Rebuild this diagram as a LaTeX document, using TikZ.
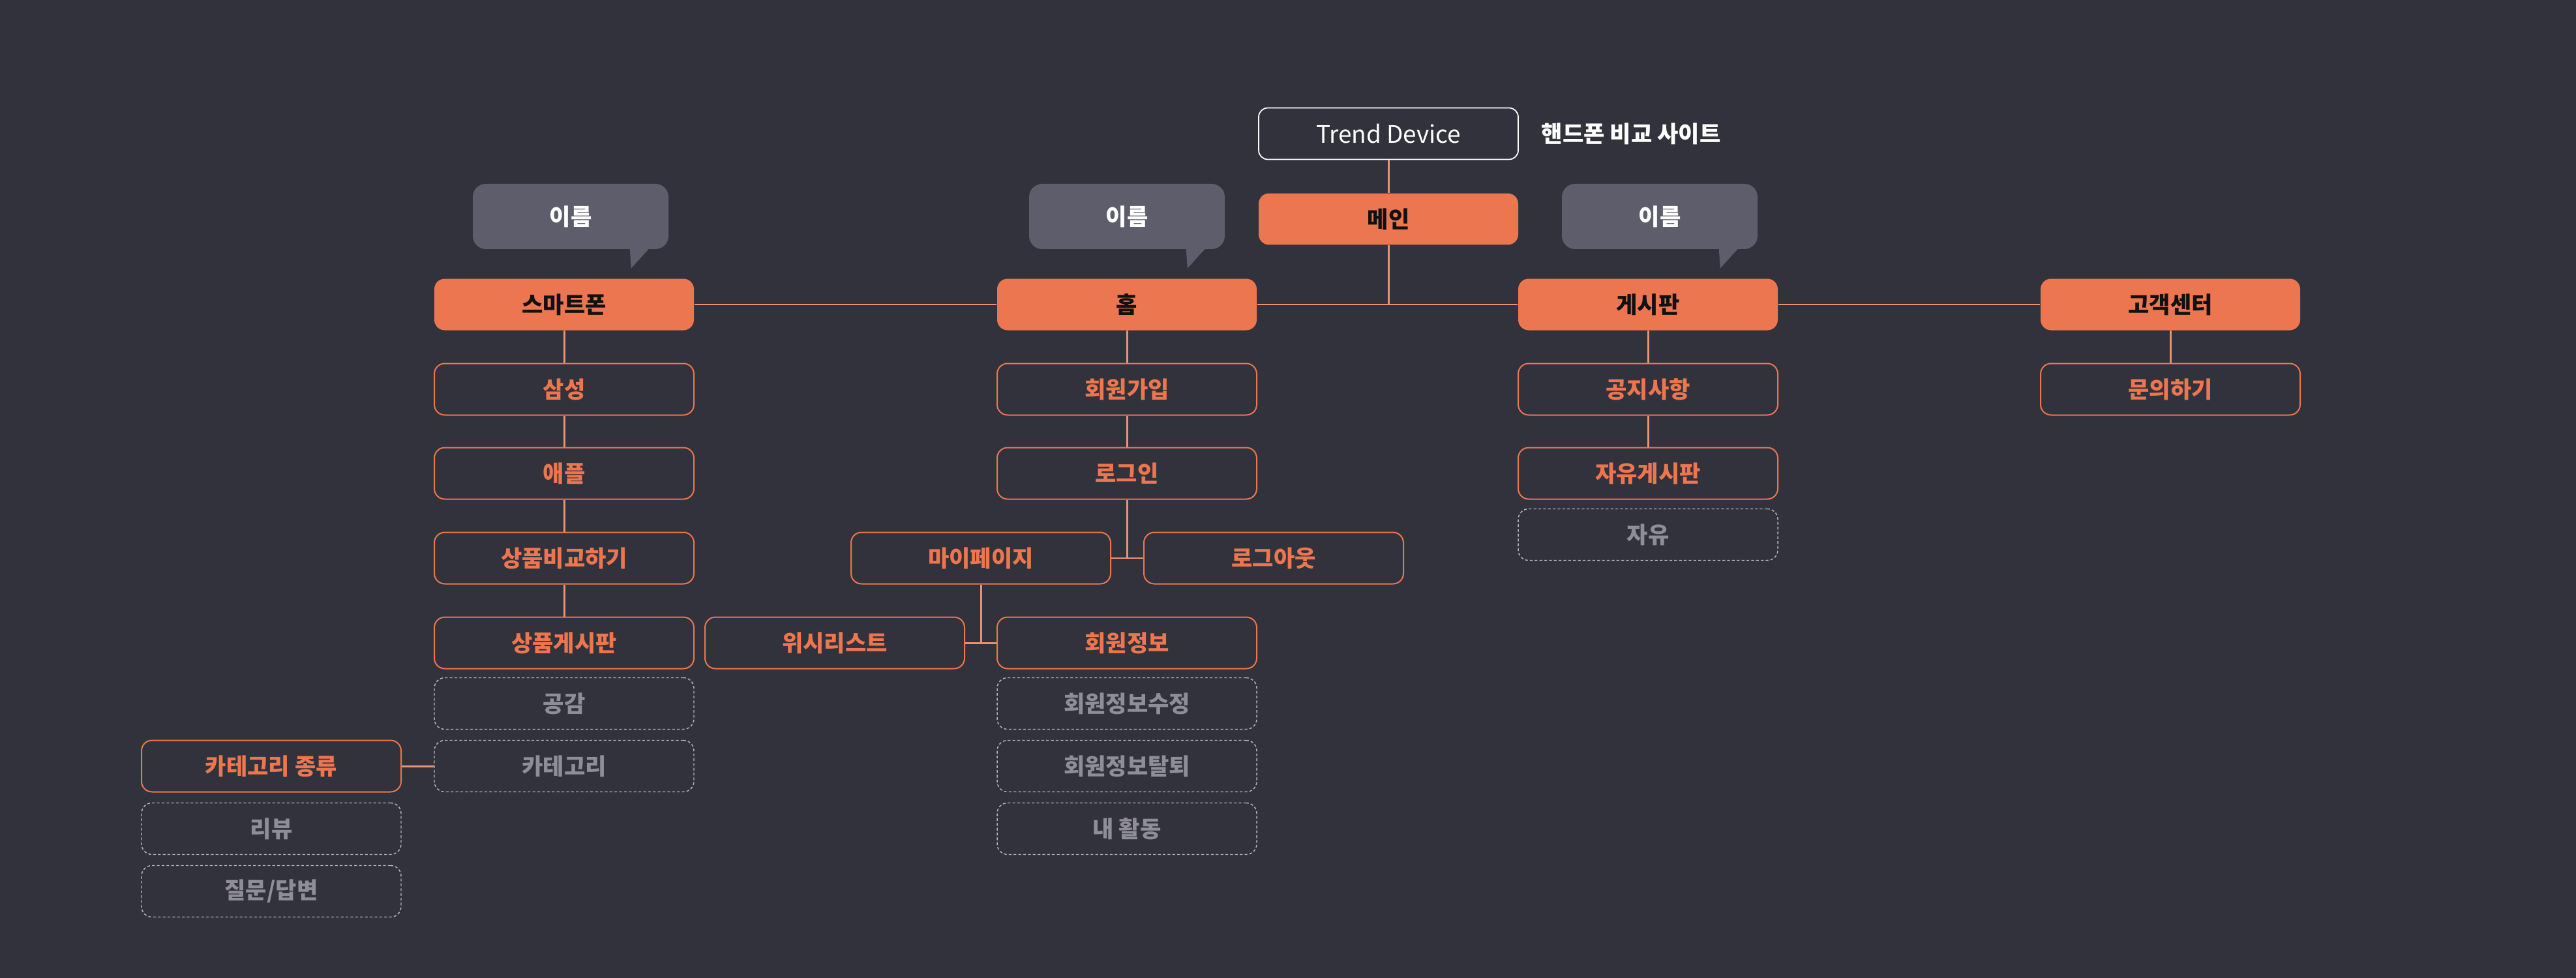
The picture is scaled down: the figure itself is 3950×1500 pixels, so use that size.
\documentclass[tikz,border=0pt]{standalone}
\usepackage{fontspec}
\setmainfont{Noto Sans CJK KR}
\definecolor{bgc}{HTML}{32323C}
\definecolor{orangec}{HTML}{EC764F}
\definecolor{linec}{HTML}{E99274}
\definecolor{bubblec}{HTML}{5E5D6B}
\definecolor{dashtext}{HTML}{8E8D99}
\definecolor{dashline}{HTML}{B4B4BC}
\definecolor{darktext}{HTML}{111111}
\tikzset{
  base/.style={rectangle, minimum width=39.8mm, minimum height=7.9mm, inner sep=0pt, rounded corners=1.6mm, font=\bfseries\fontsize{10pt}{12pt}\selectfont},
  filledbox/.style={base, fill=orangec, text=darktext},
  outlinebox/.style={base, draw=orangec, line width=0.57pt, text=orangec},
  dashbox/.style={base, draw=dashline, line width=0.42pt, dash pattern=on 1.2pt off 0.9pt, text=dashtext},
  bubble/.style={rectangle, minimum width=30mm, minimum height=10mm, inner sep=0pt, rounded corners=2mm, fill=bubblec, text=white, font=\bfseries\fontsize{10pt}{12pt}\selectfont},
  conn/.style={draw=linec, line width=0.85pt},
}
\begin{document}
\begin{tikzpicture}[x=0.1mm, y=-0.1mm]
\fill[bgc] (0,0) rectangle (3950,1500);
\useasboundingbox (0,0) rectangle (3950,1500);

% top
\node[base, draw=white, line width=0.5pt, rounded corners=1.4mm, text=white, font=\fontsize{10.5pt}{12pt}\selectfont] (trend) at (2129,205) {Trend Device};
\node[anchor=west, text=white, font=\bfseries\fontsize{10pt}{12pt}\selectfont, inner sep=0pt] (site) at (2363,205) {핸드폰 비교 사이트};
\node[filledbox] (main) at (2129,336) {메인};

% level 1
\node[filledbox] (smart) at (865,467) {스마트폰};
\node[filledbox] (home) at (1728,467) {홈};
\node[filledbox] (board) at (2527,467) {게시판};
\node[filledbox] (cs) at (3328,467) {고객센터};

% bubbles
\node[bubble] (b1) at (875,332) {이름};
\node[bubble] (b2) at (1728,332) {이름};
\node[bubble] (b3) at (2545,332) {이름};
\foreach \b in {b1,b2,b3}{
  \fill[bubblec] ([xshift=-6mm,yshift=0.2mm]\b.south east) -- ([xshift=-5.8mm,yshift=-2.9mm]\b.south east) -- ([xshift=-3mm,yshift=0.2mm]\b.south east) -- cycle;
}

% smartphone column
\node[outlinebox] (samsung) at (865,597) {삼성};
\node[outlinebox] (apple) at (865,726) {애플};
\node[outlinebox] (compare) at (865,856) {상품비교하기};
\node[outlinebox] (pboard) at (865,986) {상품게시판};
\node[dashbox] (empathy) at (865,1079) {공감};
\node[dashbox] (cat) at (865,1175) {카테고리};
\node[outlinebox] (catkind) at (416,1175) {카테고리 종류};
\node[dashbox] (review) at (416,1271) {리뷰};
\node[dashbox] (qna) at (416,1367) {질문/답변};

% home column
\node[outlinebox] (join) at (1728,597) {회원가입};
\node[outlinebox] (login) at (1728,726) {로그인};
\node[outlinebox] (mypage) at (1504,856) {마이페이지};
\node[outlinebox] (logout) at (1953,856) {로그아웃};
\node[outlinebox] (wish) at (1280,986) {위시리스트};
\node[outlinebox] (info) at (1728,986) {회원정보};
\node[dashbox] (edit) at (1728,1079) {회원정보수정};
\node[dashbox] (quit) at (1728,1175) {회원정보탈퇴};
\node[dashbox] (act) at (1728,1271) {내 활동};

% board column
\node[outlinebox] (notice) at (2527,597) {공지사항};
\node[outlinebox] (free) at (2527,726) {자유게시판};
\node[dashbox] (freed) at (2527,820) {자유};

% cs column
\node[outlinebox] (ask) at (3328,597) {문의하기};

% connectors
\draw[conn] (trend) -- (main);
\draw[conn] (main.south) -- (main.south |- home.east);
\draw[conn] (smart.east) -- (home.west);
\draw[conn] (home.east) -- (board.west);
\draw[conn] (board.east) -- (cs.west);

\draw[conn] (smart) -- (samsung);
\draw[conn] (samsung) -- (apple);
\draw[conn] (apple) -- (compare);
\draw[conn] (compare) -- (pboard);
\draw[conn] (catkind.east) -- (cat.west);

\draw[conn] (home) -- (join);
\draw[conn] (join) -- (login);
\draw[conn] (login.south) -- (login.south |- mypage.east);
\draw[conn] (mypage.east) -- (logout.west);
\draw[conn] (mypage.south) -- (mypage.south |- wish.east);
\draw[conn] (wish.east) -- (info.west);

\draw[conn] (board) -- (notice);
\draw[conn] (notice) -- (free);
\draw[conn] (cs) -- (ask);
\end{tikzpicture}
\end{document}
